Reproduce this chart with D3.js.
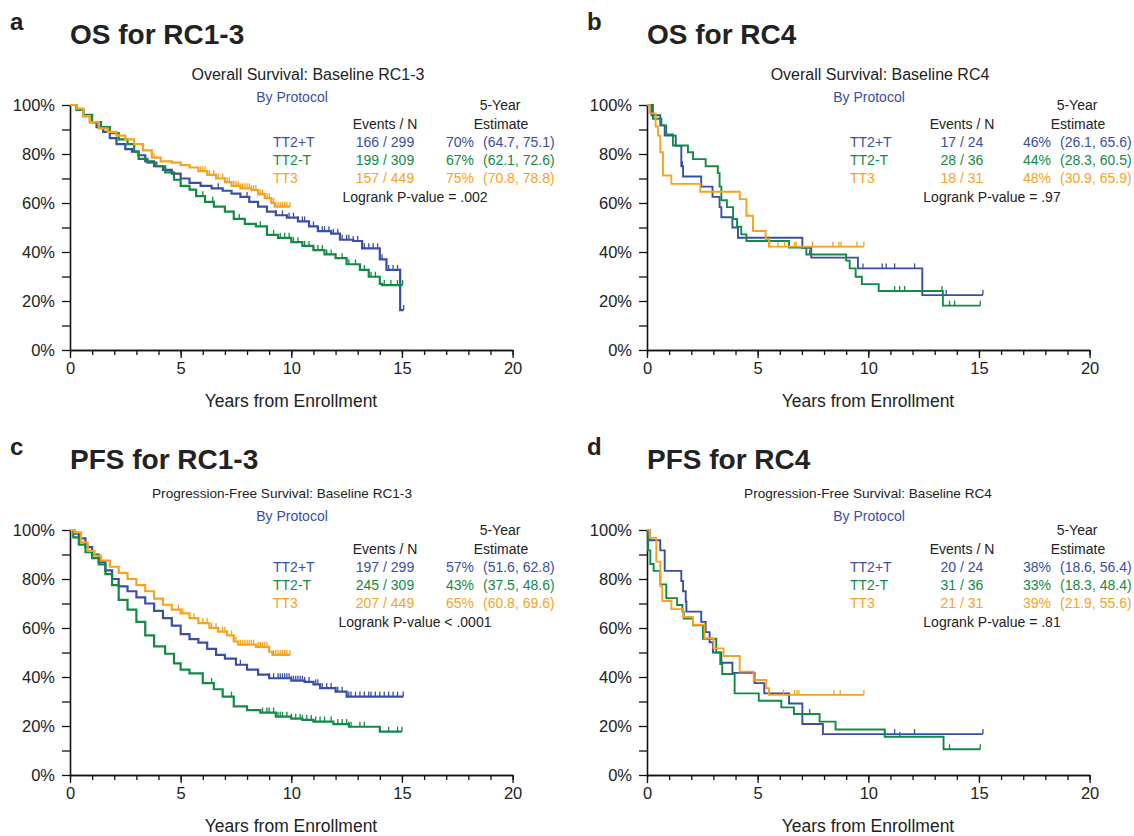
<!DOCTYPE html>
<html>
<head>
<meta charset="utf-8">
<script src="https://cdn.jsdelivr.net/npm/d3@7"></script>
<style>
body { margin: 0; background: #fff; }
svg text { font-family: "Liberation Sans", Arial, sans-serif; fill: #222; }
</style>
</head>
<body>
<div id="chart"></div>
<script>
var groups = ["TT2+T", "TT2-T", "TT3"];
var colors = ["#394ea6", "#118a45", "#f6a31d"];
var xTicks = d3.range(0, 21);
var xMajor = [0, 5, 10, 15, 20];
var yTicks = d3.range(0, 101, 10);

// a: OS RC1-3  [years, survival %]
var osA1 = [[0,100],[0.3,98],[0.6,95.5],[0.9,93],[1.2,91],[1.5,89],[1.8,86.5],[2.1,84],[2.5,82],[2.8,81],[3.1,79.5],[3.4,77],[3.8,75],[4.2,73.5],[4.6,72],[5.0,70],[5.4,68.2],[5.9,67],[6.4,66],[6.9,65],[7.3,63.8],[7.7,62.5],[8.1,60.5],[8.5,58.5],[8.9,56.5],[9.3,55],[9.8,54],[10.3,52.5],[10.8,50.5],[11.2,48.5],[11.8,47.5],[12.2,45],[12.8,44.5],[13.2,41.5],[14.0,37],[14.3,32.7],[14.92,16.3]];
var osA2 = [[0,100],[0.3,98],[0.6,96],[1.0,93],[1.4,91],[1.8,88.5],[2.2,86],[2.6,84],[2.9,81],[3.1,78],[3.5,76.5],[3.9,75],[4.3,72.5],[4.7,69.5],[5.0,67],[5.4,65.5],[5.7,62.8],[6.1,60.5],[6.5,58.5],[7.0,56.5],[7.4,53.5],[7.9,51.5],[8.4,50.5],[8.9,47],[9.4,45.8],[10.0,44],[10.5,42.5],[11.0,40.8],[11.5,39],[12.0,37.5],[12.5,35],[13.1,32.7],[13.5,29.9],[14.0,27],[14.1,26.5]];
var osA3 = [[0,100],[0.3,98.5],[0.6,95.5],[0.9,93],[1.3,90.5],[1.7,89],[2.1,87.5],[2.5,86],[2.9,84],[3.3,81.5],[3.7,78.5],[4.1,77],[4.6,76.5],[5.0,75.5],[5.4,74.5],[5.8,73],[6.2,71.5],[6.6,70],[7.0,68.5],[7.3,67],[7.7,66],[8.2,65.3],[8.5,63.5],[8.8,62],[9.1,60],[9.25,58.5]];
var osAEnd = [15.08, 15.03, 9.94];
var osACens1 = [6.7,8.0,9.3,9.6,9.9,10.1,10.3,10.5,10.6,10.8,11.0,11.2,11.4,11.5,11.7,11.9,12.1,12.3,12.5,12.6,12.8,13.0,13.3,13.5,13.7,13.9,14.1,14.4,14.6,14.8,15.08];
var osACens2 = [6.0,6.45,7.65,8.6,8.9,9.2,9.5,9.7,9.9,10.1,10.3,10.6,10.8,11.0,11.2,11.4,11.6,11.8,12.0,12.3,12.6,12.9,13.3,13.6,13.8,14.2,14.5,14.8,15.03];
var osACens3 = [3.8,5.9,6.0,6.1,6.3,6.5,6.6,6.7,6.9,7.0,7.1,7.2,7.4,7.5,7.6,7.7,7.8,7.9,8.0,8.1,8.2,8.3,8.4,8.5,8.6,8.7,8.8,8.9,9.0,9.1,9.2,9.3,9.4,9.5,9.6,9.7,9.8,9.94];
var osAEvents = ["166 / 299", "199 / 309", "157 / 449"];
var osAEst = ["70%", "67%", "75%"];
var osACi = ["(64.7, 75.1)", "(62.1, 72.6)", "(70.8, 78.8)"];

// b: OS RC4
var osB1 = [[0,100],[0.2,95.8],[0.6,91.7],[0.8,87.5],[1.3,83.3],[1.55,75],[1.63,70.8],[2.45,66.7],[2.96,62.5],[3.28,58.3],[3.36,54.2],[3.86,50],[4.11,45.8],[7.02,41.7],[7.42,37.7],[9.53,33.3],[12.44,22.4]];
var osB2 = [[0,100],[0.27,94.4],[0.65,91.7],[0.87,88],[1.17,83.5],[1.85,80.7],[2.08,77.9],[2.65,75],[3.2,72.2],[3.28,66.7],[3.36,61.1],[3.61,58.3],[3.89,53.5],[4.07,50.3],[4.26,47.2],[4.49,44.5],[6.42,41.8],[7.2,39],[9.0,36.5],[9.16,33.3],[9.43,29.9],[9.71,26.9],[10.47,24.1],[13.37,18.1]];
var osB3 = [[0,100],[0.12,96.6],[0.39,91.2],[0.5,87.5],[0.6,80.7],[0.72,71.2],[1.1,67.8],[2.41,64.6],[4.19,61.6],[4.49,54.8],[4.79,48.6],[5.36,45.3],[5.51,42.2]];
var osBEnd = [15.18, 15.06, 9.8];
var osBCens1 = [1.6,9.76,10.63,10.81,11.19,12.09,13.52,15.18];
var osBCens2 = [7.35,11.19,11.42,11.64,13.33,13.67,13.9,15.06];
var osBCens3 = [4.5,4.8,5.54,5.92,6.22,6.67,6.75,7.47,8.4,8.67,8.77,9.49,9.8];
var osBEvents = ["17 / 24", "28 / 36", "18 / 31"];
var osBEst = ["46%", "44%", "48%"];
var osBCi = ["(26.1, 65.6)", "(28.3, 60.5)", "(30.9, 65.9)"];

// c: PFS RC1-3
var pfsC1 = [[0,100],[0.2,98.5],[0.4,96.6],[0.7,93],[1.0,90],[1.3,87],[1.6,83.5],[1.9,80],[2.2,77],[2.6,75],[3.0,72.5],[3.4,70],[3.8,67],[4.2,64],[4.6,61],[5.0,57.5],[5.4,55.5],[5.8,54],[6.2,51.5],[6.6,49],[7.0,47.5],[7.5,45],[8.0,43],[8.5,41],[9.0,39.5],[10.0,38.5],[10.6,38],[11.0,37],[11.3,35.5],[12.0,34],[12.5,32]];
var pfsC2 = [[0,100],[0.15,97],[0.4,94],[0.7,91],[1.0,88.5],[1.3,86],[1.6,82],[1.9,77.5],[2.2,71.5],[2.6,67.5],[3.0,62.5],[3.4,57],[3.8,52.5],[4.3,49.5],[4.7,45.6],[5.0,43],[5.4,41.5],[6.0,37.5],[6.5,35],[6.9,32],[7.4,28],[8.0,26.5],[8.6,25.5],[9.3,23.8],[10.0,23],[10.5,22.5],[11.0,21.8],[11.9,20.8],[12.6,19.7],[14.0,17.7]];
var pfsC3 = [[0,100],[0.2,99],[0.5,95],[0.8,91.5],[1.1,89.5],[1.4,87.5],[1.8,85],[2.2,82.5],[2.6,80],[3.0,77.5],[3.4,75],[3.8,72],[4.2,69.5],[4.6,67.5],[5.0,66],[5.4,64],[5.8,62],[6.3,60],[6.7,58.5],[7.1,57],[7.4,54.5],[7.6,53.2],[8.4,52.3],[9.0,50.3],[9.15,49]];
var pfsCEnd = [15.06, 15.0, 9.94];
var pfsCCens1 = [6.6,7.7,9.0,9.2,9.4,9.5,9.6,9.7,9.8,9.9,10.0,10.1,10.2,10.3,10.4,10.5,10.6,10.8,11.1,11.2,11.4,11.6,11.8,12.0,12.1,12.3,12.6,12.7,12.9,13.1,13.3,13.5,13.6,13.8,14.0,14.2,14.4,14.6,14.8,15.06];
var pfsCCens2 = [6.4,7.3,8.7,8.9,9.0,9.2,9.4,9.5,9.6,9.8,10.0,10.2,10.4,10.5,10.7,10.9,11.1,11.3,11.5,11.8,12.1,12.3,12.5,12.6,12.7,13.1,13.3,14.0,14.4,14.8,15.0];
var pfsCCens3 = [4.9,5.0,5.1,5.6,5.8,6.0,6.2,6.4,6.6,6.7,6.9,7.0,7.1,7.3,7.5,7.7,7.8,7.9,8.0,8.1,8.2,8.3,8.5,8.6,8.7,8.8,8.9,9.0,9.2,9.3,9.4,9.5,9.6,9.7,9.8,9.94];
var pfsCEvents = ["197 / 299", "245 / 309", "207 / 449"];
var pfsCEst = ["57%", "43%", "65%"];
var pfsCCi = ["(51.6, 62.8)", "(37.5, 48.6)", "(60.8, 69.6)"];

// d: PFS RC4
var pfsD1 = [[0,100],[0.12,95.8],[0.6,91.7],[0.8,83.3],[1.55,79.2],[1.63,75],[1.75,70.8],[1.78,66.7],[2.45,62.5],[2.65,58.3],[2.83,54.2],[2.98,50],[3.36,45.8],[3.86,41.7],[4.86,37.5],[5.3,33.3],[6.42,29.2],[7.02,20.8],[7.95,16.7]];
var pfsD2 = [[0,100],[0.05,91.7],[0.15,86.1],[0.3,83.3],[0.6,77.8],[0.87,72.2],[1.36,69.4],[1.6,66.7],[1.66,63.9],[2.08,61.1],[2.53,55.6],[3.13,50],[3.31,45.3],[3.4,41.2],[3.96,33.3],[5.05,30.3],[6.07,27.6],[6.64,24.9],[7.8,21.8],[8.52,18.6],[10.74,15.6],[13.4,10.5]];
var pfsD3 = [[0,100],[0.12,96.8],[0.42,87.1],[0.6,77],[0.69,71],[1.1,67.7],[1.63,64.5],[2.08,61.3],[2.6,55.8],[3.01,51.7],[3.46,48.6],[4.19,42.2],[4.82,38.8],[5.39,35.4],[5.51,32.7]];
var pfsDEnd = [15.18, 15.06, 9.8];
var pfsDCens1 = [5.5,10.75,11.19,12.09,15.18];
var pfsDCens2 = [7.35,11.42,13.67,15.06];
var pfsDCens3 = [6.17,6.67,6.78,6.87,8.45,8.73,9.8];
var pfsDEvents = ["20 / 24", "31 / 36", "21 / 31"];
var pfsDEst = ["38%", "33%", "39%"];
var pfsDCi = ["(18.6, 56.4)", "(18.3, 48.4)", "(21.9, 55.6)"];

var svgWidth = 1134;
var svgHeight = 836;
var plotW = 442.6;
var plotH = 245;

var svg = d3.select("#chart")
  .append("svg")
  .attr("width", svgWidth)
  .attr("height", svgHeight);

var x = d3.scaleLinear().domain([0, 20]).range([0, plotW]);
var y = d3.scaleLinear().domain([0, 100]).range([plotH, 0]);

var stepLine = d3.line()
  .x(d => x(d[0]))
  .y(d => y(d[1]))
  .curve(d3.curveStepAfter);

function survAt(pts, t) {
  var s = 100;
  pts.forEach(function(p) { if (p[0] <= t) s = p[1]; });
  return s;
}

function drawPanel(p) {
  // panel letter and big title
  svg.append("text")
    .attr("x", p.x0 - 60).attr("y", p.y0 - 75)
    .style("font-size", "24px").style("font-weight", "bold")
    .text(p.letter);
  svg.append("text")
    .attr("x", p.x0).attr("y", p.y0 - 61)
    .style("font-size", "28px").style("font-weight", "bold")
    .text(p.title);

  var g = svg.append("g")
    .attr("transform", `translate(${p.x0}, ${p.y0})`);

  g.append("text")
    .attr("x", p.subX).attr("y", p.subY)
    .attr("text-anchor", "middle")
    .style("font-size", p.subSize)
    .text(p.subtitle);
  g.append("text")
    .attr("x", 222).attr("y", p.byY)
    .attr("text-anchor", "middle")
    .style("font-size", "14px")
    .style("fill", colors[0])
    .text("By Protocol");

  // axes
  var yAxis = g.append("g")
    .call(d3.axisLeft(y).tickValues(yTicks).tickSize(8).tickSizeOuter(0).tickPadding(7)
      .tickFormat(d => d % 20 === 0 ? d + "%" : ""));
  var xMinor = g.append("g")
    .attr("transform", `translate(0, ${plotH})`)
    .call(d3.axisBottom(x).tickValues(xTicks).tickSize(5).tickSizeOuter(0).tickFormat(""));
  var xAxis = g.append("g")
    .attr("transform", `translate(0, ${plotH})`)
    .call(d3.axisBottom(x).tickValues(xMajor).tickSize(8).tickSizeOuter(0).tickPadding(4));
  [yAxis, xMinor, xAxis].forEach(function(a) {
    a.selectAll("path").attr("stroke", "#111").attr("stroke-width", 1.6);
    a.selectAll("line").attr("stroke", "#111").attr("stroke-width", 1.3);
    a.selectAll("text").style("font-size", "16.5px").style("fill", "#222")
      .style("font-family", "'Liberation Sans', Arial, sans-serif");
  });

  g.append("text")
    .attr("x", 221).attr("y", plotH + 57)
    .attr("text-anchor", "middle")
    .style("font-size", "17.5px")
    .text("Years from Enrollment");

  // curves
  p.curves.forEach(function(c, i) {
    var pts = c.concat([[p.ends[i], c[c.length - 1][1]]]);
    g.append("path")
      .datum(pts)
      .attr("fill", "none")
      .attr("stroke", colors[i])
      .attr("stroke-width", p.lw)
      .attr("d", stepLine);
    g.selectAll(null)
      .data(p.cens[i])
      .enter()
      .append("line")
      .attr("x1", d => x(d)).attr("x2", d => x(d))
      .attr("y1", d => y(survAt(c, d)))
      .attr("y2", d => y(survAt(c, d)) - 5)
      .attr("stroke", colors[i])
      .attr("stroke-width", 1.3);
  });

  // legend table
  g.append("text").attr("x", 430).attr("y", 5).attr("text-anchor", "middle")
    .style("font-size", "14px").text("5-Year");
  g.append("text").attr("x", 431).attr("y", 24).attr("text-anchor", "middle")
    .style("font-size", "14px").text("Estimate");
  g.append("text").attr("x", 315).attr("y", 24).attr("text-anchor", "middle")
    .style("font-size", "14px").text("Events / N");

  groups.forEach(function(name, i) {
    var ty = 42 + i * 18;
    g.append("text").attr("x", 203).attr("y", ty)
      .style("font-size", "14px").style("fill", colors[i]).text(name);
    g.append("text").attr("x", 315).attr("y", ty).attr("text-anchor", "middle")
      .style("font-size", "14px").style("fill", colors[i]).text(p.events[i]);
    g.append("text").attr("x", 376).attr("y", ty)
      .style("font-size", "14px").style("fill", colors[i]).text(p.est[i]);
    g.append("text").attr("x", 413).attr("y", ty)
      .style("font-size", "14px").style("fill", colors[i]).text(p.ci[i]);
  });

  g.append("text").attr("x", 345).attr("y", 97).attr("text-anchor", "middle")
    .style("font-size", "14px").text(p.logrank);
}

drawPanel({
  x0: 70, y0: 105, letter: "a", title: "OS for RC1-3",
  subtitle: "Overall Survival: Baseline RC1-3", subX: 238, subY: -25, subSize: "16px", byY: -3,
  curves: [osA1, osA2, osA3], ends: osAEnd, cens: [osACens1, osACens2, osACens3],
  events: osAEvents, est: osAEst, ci: osACi, logrank: "Logrank P-value = .002", lw: 2.2
});
drawPanel({
  x0: 647, y0: 105, letter: "b", title: "OS for RC4",
  subtitle: "Overall Survival: Baseline RC4", subX: 233, subY: -25, subSize: "16px", byY: -3,
  curves: [osB1, osB2, osB3], ends: osBEnd, cens: [osBCens1, osBCens2, osBCens3],
  events: osBEvents, est: osBEst, ci: osBCi, logrank: "Logrank P-value = .97", lw: 1.9
});
drawPanel({
  x0: 70, y0: 530, letter: "c", title: "PFS for RC1-3",
  subtitle: "Progression-Free Survival: Baseline RC1-3", subX: 212, subY: -32, subSize: "13.6px", byY: -9,
  curves: [pfsC1, pfsC2, pfsC3], ends: pfsCEnd, cens: [pfsCCens1, pfsCCens2, pfsCCens3],
  events: pfsCEvents, est: pfsCEst, ci: pfsCCi, logrank: "Logrank P-value < .0001", lw: 2.2
});
drawPanel({
  x0: 647, y0: 530, letter: "d", title: "PFS for RC4",
  subtitle: "Progression-Free Survival: Baseline RC4", subX: 221, subY: -32, subSize: "13.6px", byY: -9,
  curves: [pfsD1, pfsD2, pfsD3], ends: pfsDEnd, cens: [pfsDCens1, pfsDCens2, pfsDCens3],
  events: pfsDEvents, est: pfsDEst, ci: pfsDCi, logrank: "Logrank P-value = .81", lw: 1.9
});
</script>
</body>
</html>
